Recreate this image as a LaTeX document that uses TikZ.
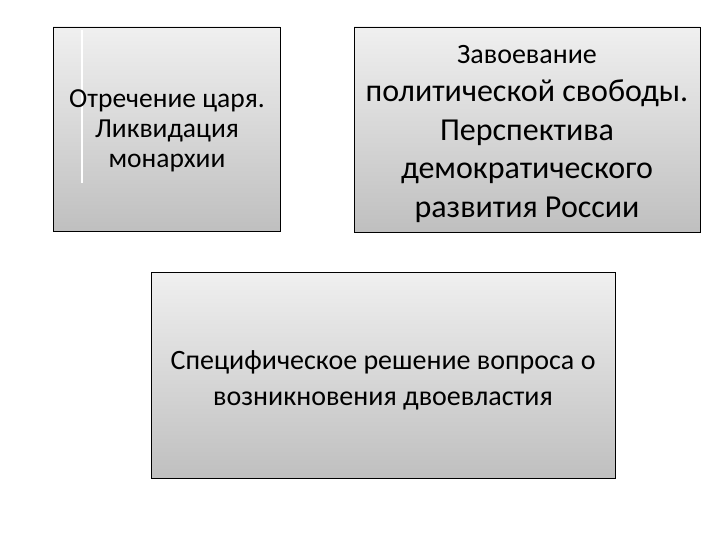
\documentclass[tikz,border=0pt]{standalone}
\usepackage{fontspec}
\setmainfont{Carlito}
\begin{document}
\begin{tikzpicture}[x=1pt,y=-1pt,
  gbox/.style={draw=black, line width=0.8pt, top color=gray!12, bottom color=gray!50, rectangle, inner sep=0pt, align=center},
  txt/.style={align=center, inner sep=0pt}]
\useasboundingbox[fill=white] (0,0) rectangle (720,540);
\node[gbox, minimum width=227pt, minimum height=204pt] (b1) at (166.5,129) {};
\draw[white, line width=1.2pt] (82,30) -- (82,183);
\node[txt, font=\fontsize{27.5}{30}\selectfont] (t1) at (167,131) {Отречение царя.\\Ликвидация\\монархии};
\node[gbox, minimum width=346pt, minimum height=205pt] (b2) at (527,129.5) {};
\node[txt, font=\fontsize{32}{38.5}\selectfont] (t2) at (527,134) {{\fontsize{28}{38.5}\selectfont Завоевание}\\политической свободы.\\Перспектива\\демократического\\развития России};
\node[gbox, minimum width=464pt, minimum height=206pt] (b3) at (383,375) {};
\node[txt, font=\fontsize{28}{36}\selectfont] (t3) at (383,380) {Специфическое решение вопроса о\\возникновения двоевластия};
\end{tikzpicture}
\end{document}
